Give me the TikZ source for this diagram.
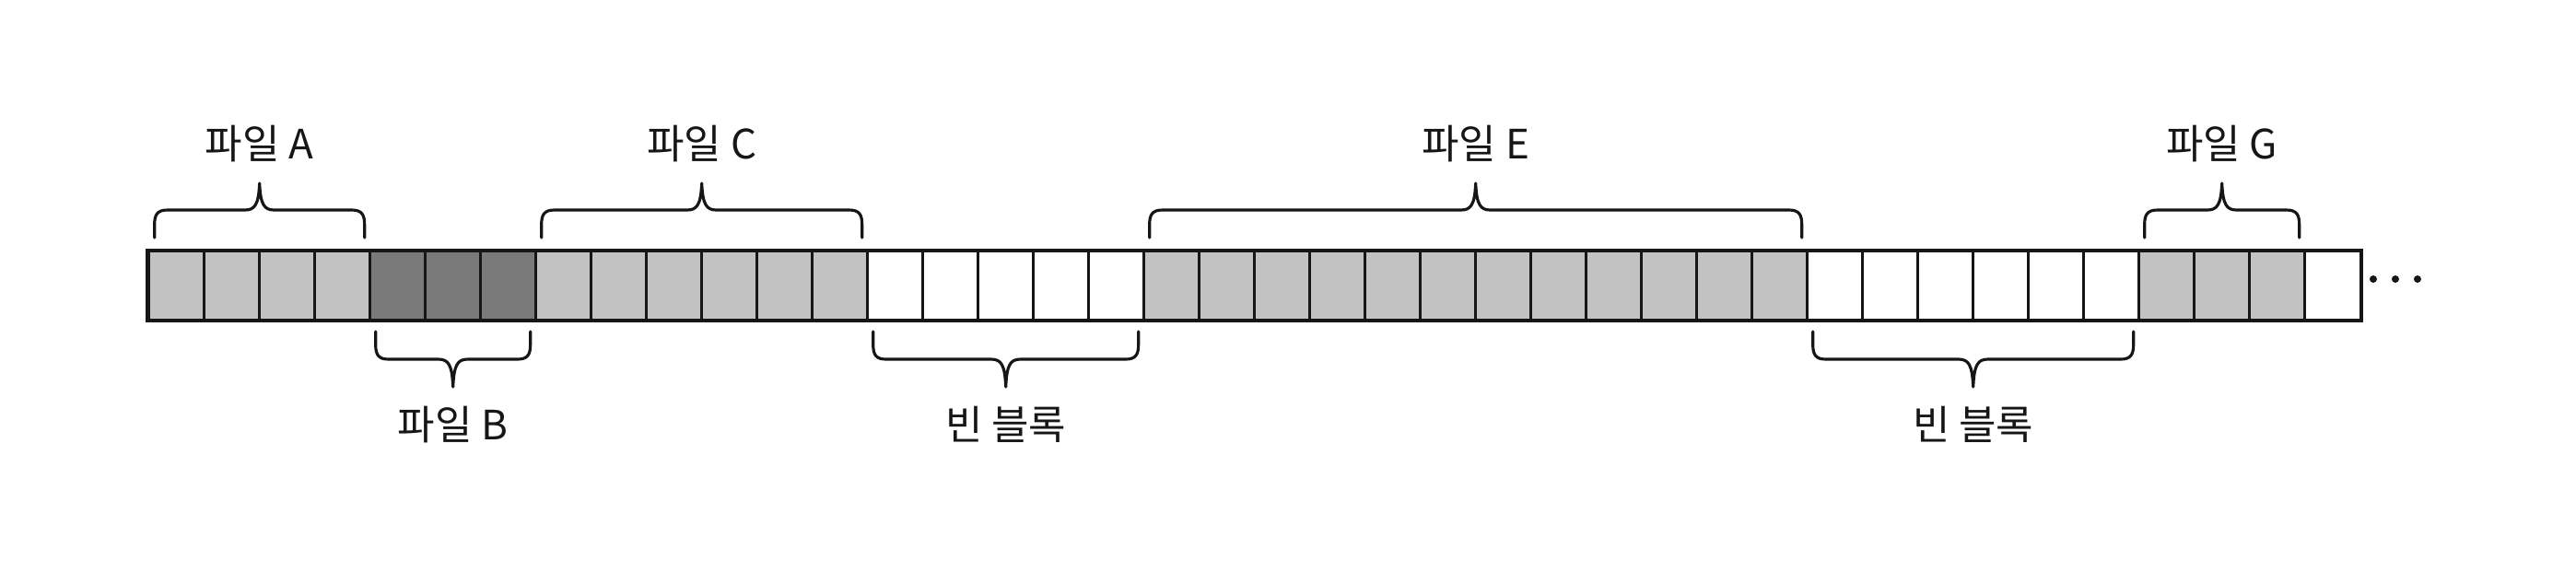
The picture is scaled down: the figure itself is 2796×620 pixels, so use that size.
\documentclass[tikz,border=0pt]{standalone}
\usepackage{fontspec}
\setmainfont{Noto Sans CJK KR}
\usetikzlibrary{calc}
\definecolor{cellL}{RGB}{194,194,194}
\definecolor{cellD}{RGB}{122,122,122}
\definecolor{cellW}{RGB}{255,255,255}
\definecolor{inkc}{RGB}{22,22,22}
\tikzset{
  cellbox/.style={draw=inkc, line width=0.7pt, minimum width=0.6cm, minimum height=0.74cm, inner sep=0pt},
  stripframe/.style={draw=inkc, line width=1.15pt},
  bracestyle/.style={draw=inkc, line width=0.9pt, line cap=round, line join=round},
  lbl/.style={font=\fontsize{12.5}{14}\selectfont, text=inkc, anchor=base, inner sep=0pt}
}
\newcommand\ftopbrace[4]{%
  \pgfmathsetmacro\ba{161.7+60*#1+6}%
  \pgfmathsetmacro\bb{161.7+60*(#2+1)-6}%
  \pgfmathsetmacro\bm{(\ba+\bb)/2}%
  \draw[bracestyle] (\ba,258) -- (\ba,244) .. controls (\ba,233) and (\ba+3,228) .. (\ba+14,228)
    -- (\bm-16,228) .. controls (\bm-5,228) and (\bm-1,222) .. (\bm,199)
    .. controls (\bm+1,222) and (\bm+5,228) .. (\bm+16,228)
    -- (\bb-14,228) .. controls (\bb-3,228) and (\bb,233) .. (\bb,244) -- (\bb,258);
  \node[lbl] (#3) at (\bm,172) {#4};
}
\newcommand\fbotbrace[4]{%
  \pgfmathsetmacro\ba{161.7+60*#1+6}%
  \pgfmathsetmacro\bb{161.7+60*(#2+1)-6}%
  \pgfmathsetmacro\bm{(\ba+\bb)/2}%
  \draw[bracestyle] (\ba,360) -- (\ba,374) .. controls (\ba,385) and (\ba+3,390) .. (\ba+14,390)
    -- (\bm-16,390) .. controls (\bm-5,390) and (\bm-1,396) .. (\bm,420)
    .. controls (\bm+1,396) and (\bm+5,390) .. (\bm+16,390)
    -- (\bb-14,390) .. controls (\bb-3,390) and (\bb,385) .. (\bb,374) -- (\bb,360);
  \node[lbl] (#3) at (\bm,477) {#4};
}
\begin{document}
\begin{tikzpicture}[x=0.01cm, y=-0.01cm]
  \useasboundingbox (0,0) rectangle (2796,620);
  % cells
  \foreach \c [count=\i from 0] in {L,L,L,L,D,D,D,L,L,L,L,L,L,W,W,W,W,W,L,L,L,L,L,L,L,L,L,L,L,L,W,W,W,W,W,W,L,L,L,W}
    \node[cellbox, fill=cell\c] (c\i) at (191.7+60*\i,310) {};
  \draw[stripframe] (c0.north west) rectangle (c39.south east);
  % continuation dots
  \foreach \dx in {0,24,48}
    \fill[inkc] ($(c39.east)+(13+\dx,-7)$) circle[radius=0.04cm];
  % braces and labels
  \ftopbrace{0}{3}{lA}{파일 A}
  \ftopbrace{7}{12}{lC}{파일 C}
  \ftopbrace{18}{29}{lE}{파일 E}
  \ftopbrace{36}{38}{lG}{파일 G}
  \fbotbrace{4}{6}{lB}{파일 B}
  \fbotbrace{13}{17}{lF1}{빈 블록}
  \fbotbrace{30}{35}{lF2}{빈 블록}
\end{tikzpicture}
\end{document}
